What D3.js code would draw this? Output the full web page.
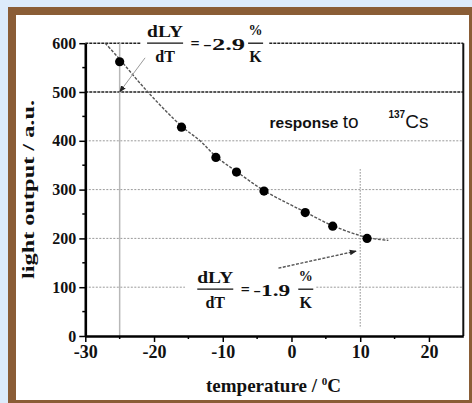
<!DOCTYPE html>
<html><head><meta charset="utf-8">
<script src="https://cdn.jsdelivr.net/npm/d3@7"></script>
<style>
html,body{margin:0;padding:0;background:#dcebfb;}
svg{display:block}
.serif{font-family:"Liberation Serif","Times New Roman",serif;font-weight:bold;fill:#111;}
.sans{font-family:"Liberation Sans",Arial,sans-serif;fill:#111;}
</style></head>
<body><svg id="chart" width="472" height="403"></svg>
<script>
// Measured light output of the scintillator vs. temperature
const temperatures = [-25, -16, -11, -8, -4, 2, 6, 11];
const lightOutput = [562, 428, 366, 336, 297, 253, 225, 200];
// Fitted trend curve, sampled along the drawn fit
const fitTemperatures = [-27.1, -25.3, -20.9, -16, -13.3, -11, -8, -4, 0, 2, 6, 11, 14.1];
const fitLightOutput = [600, 572, 500, 430, 400, 368, 337, 298, 268, 254, 226, 202, 196];
const xTicks = [-30, -20, -10, 0, 10, 20];
const xMinorTicks = [-25, -15, -5, 5, 15];
const yTicks = [0, 100, 200, 300, 400, 500, 600];
const yMinorTicks = [50, 150, 250, 350, 450, 550];
const gridValues = [100, 200, 300, 400];

const svg = d3.select("#chart");

// frame
svg.append("rect").attr("x", 8).attr("y", 7).attr("width", 480).attr("height", 420).attr("fill", "#8a5d36");
svg.append("rect").attr("x", 16).attr("y", 15).attr("width", 453).attr("height", 385).attr("fill", "#ffffff");

const x = d3.scaleLinear().domain([-30, 25]).range([85.3, 463.3]);
const y = d3.scaleLinear().domain([0, 600]).range([336, 43.2]);

const g = svg.append("g");

// horizontal grid
g.selectAll("line.grid").data(gridValues).join("line")
  .attr("x1", x(-30)).attr("x2", x(25))
  .attr("y1", d => y(d)).attr("y2", d => y(d))
  .attr("stroke", "#9a9a9a").attr("stroke-width", 1).attr("stroke-dasharray", "2,1.5");
// 500 level and top border
g.append("line").attr("x1", x(-30)).attr("x2", x(25)).attr("y1", y(500)).attr("y2", y(500))
  .attr("stroke", "#222").attr("stroke-width", 1.6).attr("stroke-dasharray", "3,1");
g.append("line").attr("x1", x(-30)).attr("x2", x(25)).attr("y1", y(600)).attr("y2", y(600))
  .attr("stroke", "#222").attr("stroke-width", 1.6).attr("stroke-dasharray", "3,1");
// right border
g.append("line").attr("x1", x(25)).attr("x2", x(25)).attr("y1", y(600)).attr("y2", y(0))
  .attr("stroke", "#111").attr("stroke-width", 2);

// reference verticals
g.append("line").attr("x1", x(-25)).attr("x2", x(-25)).attr("y1", y(600)).attr("y2", y(0))
  .attr("stroke", "#b8b8b8").attr("stroke-width", 1.5);
g.append("line").attr("x1", x(10)).attr("x2", x(10)).attr("y1", y(342)).attr("y2", y(16))
  .attr("stroke", "#888").attr("stroke-width", 1).attr("stroke-dasharray", "1.5,1.5");

// white backing behind the formulas
g.append("rect").attr("x", x(-21.9)).attr("y", y(600) - 5).attr("width", 128).attr("height", 10).attr("fill", "#fff");
g.append("rect").attr("x", x(-15.5)).attr("y", y(100) - 5).attr("width", 130).attr("height", 10).attr("fill", "#fff");

// axes
const yAxis = d3.axisLeft(y).tickValues(yTicks).tickSize(6).tickSizeOuter(0).tickPadding(3);
const ya = g.append("g").attr("transform", `translate(${x(-30)},0)`).call(yAxis);
ya.select(".domain").attr("stroke", "#000").attr("stroke-width", 2.6);
ya.selectAll(".tick line").attr("stroke", "#000").attr("stroke-width", 1.5);
ya.selectAll(".tick text").attr("class", "serif").style("font-size", "16px").attr("fill", "#111");

const xAxis = d3.axisBottom(x).tickValues(xTicks).tickFormat(d => String(d))
  .tickSize(6).tickSizeOuter(0).tickPadding(3);
const xa = g.append("g").attr("transform", `translate(0,${y(0)})`).call(xAxis);
xa.select(".domain").attr("stroke", "#000").attr("stroke-width", 2.6);
xa.selectAll(".tick line").attr("stroke", "#000").attr("stroke-width", 1.5);
xa.selectAll(".tick text").attr("class", "serif").style("font-size", "18px").attr("fill", "#111");

g.selectAll("line.ym").data(yMinorTicks).join("line")
  .attr("x1", x(-30) - 3).attr("x2", x(-30)).attr("y1", d => y(d)).attr("y2", d => y(d))
  .attr("stroke", "#000").attr("stroke-width", 1.5);
g.selectAll("line.xm").data(xMinorTicks).join("line")
  .attr("x1", d => x(d)).attr("x2", d => x(d)).attr("y1", y(0)).attr("y2", y(0) + 3)
  .attr("stroke", "#000").attr("stroke-width", 1.5);

// axis titles
svg.append("text").attr("class", "serif")
  .attr("transform", "translate(34,189.5) rotate(-90)")
  .attr("text-anchor", "middle").style("font-size", "17px")
  .attr("textLength", 179).attr("lengthAdjust", "spacingAndGlyphs")
  .text("light output / a.u.");
const xt = svg.append("text").attr("class", "serif")
  .attr("x", 273.5).attr("y", 391.5).attr("text-anchor", "middle").style("font-size", "19px");
xt.append("tspan").text("temperature / ");
xt.append("tspan").attr("dy", -7).style("font-size", "11px").text("0");
xt.append("tspan").attr("dy", 7).text("C");

// arrow markers
const defs = svg.append("defs");
defs.append("marker").attr("id", "arr").attr("viewBox", "0 0 10 10")
  .attr("refX", 9).attr("refY", 5).attr("markerWidth", 7).attr("markerHeight", 7)
  .attr("markerUnits", "userSpaceOnUse").attr("orient", "auto")
  .append("path").attr("d", "M0,1 L10,5 L0,9 Z").attr("fill", "#222");

// fit curve
const fitData = fitTemperatures.map((t, i) => [t, fitLightOutput[i]]);
g.append("path").datum(fitData)
  .attr("d", d3.line().x(d => x(d[0])).y(d => y(d[1])).curve(d3.curveCatmullRom))
  .attr("fill", "none").attr("stroke", "#555").attr("stroke-width", 1.4).attr("stroke-dasharray", "3,1.5");

// slope arrows
g.append("line").attr("x1", x(-21.3)).attr("y1", y(570)).attr("x2", x(-25)).attr("y2", y(500))
  .attr("stroke", "#999").attr("stroke-width", 1).attr("marker-end", "url(#arr)");
g.append("line").attr("x1", x(-1.9)).attr("y1", y(139)).attr("x2", x(9.4)).attr("y2", y(174))
  .attr("stroke", "#555").attr("stroke-width", 1.4).attr("stroke-dasharray", "3,1.5").attr("marker-end", "url(#arr)");

// measured points
g.selectAll("circle.pt").data(temperatures).join("circle")
  .attr("cx", d => x(d)).attr("cy", (d, i) => y(lightOutput[i])).attr("r", 4.6).attr("fill", "#000");

// slope formulas dLY/dT = k %/K
function formula(cx, cy, value, valueWidth) {
  const f = svg.append("g").attr("transform", `translate(${cx},${cy})`);
  const t = (tx, ty, s, anchor) => f.append("text").attr("class", "serif").attr("x", tx).attr("y", ty)
    .attr("text-anchor", anchor).style("font-size", "16px").text(s);
  t(20, -6, "dLY", "middle").attr("textLength", 36).attr("lengthAdjust", "spacingAndGlyphs");
  f.append("line").attr("x1", 2).attr("x2", 38).attr("y1", 0).attr("y2", 0).attr("stroke", "#111").attr("stroke-width", 1.3);
  t(20, 19, "dT", "middle");
  t(50, 6, "=", "middle");
  const v = f.append("text").attr("class", "serif").attr("x", 58).attr("y", 7).style("font-size", "17px")
    .attr("textLength", valueWidth).attr("lengthAdjust", "spacingAndGlyphs");
  v.append("tspan").style("font-weight", "normal").text("-");
  v.append("tspan").text(value);
  t(110.5, -8, "%", "middle").style("font-size", "14px");
  f.append("line").attr("x1", 103).attr("x2", 118).attr("y1", 0).attr("y2", 0).attr("stroke", "#111").attr("stroke-width", 1.3);
  t(110.5, 19, "K", "middle");
}
formula(x(-21.3), y(600), "2.9", 42);
formula(x(-14), y(100) + 2, "1.9", 37);

// source label
const rx = x(-3.2);
const rl = svg.append("text").attr("class", "sans").attr("x", rx).attr("y", y(426));
rl.append("tspan").style("font-size", "15.5px").style("font-weight", "bold").text("response ");
rl.append("tspan").style("font-size", "19px").text("to");
rl.append("tspan").attr("x", rx + 119).attr("dy", -10).style("font-size", "10px").style("font-weight", "bold").text("137");
rl.append("tspan").attr("dy", 10).style("font-size", "19px").text("Cs");
</script>
</body></html>
